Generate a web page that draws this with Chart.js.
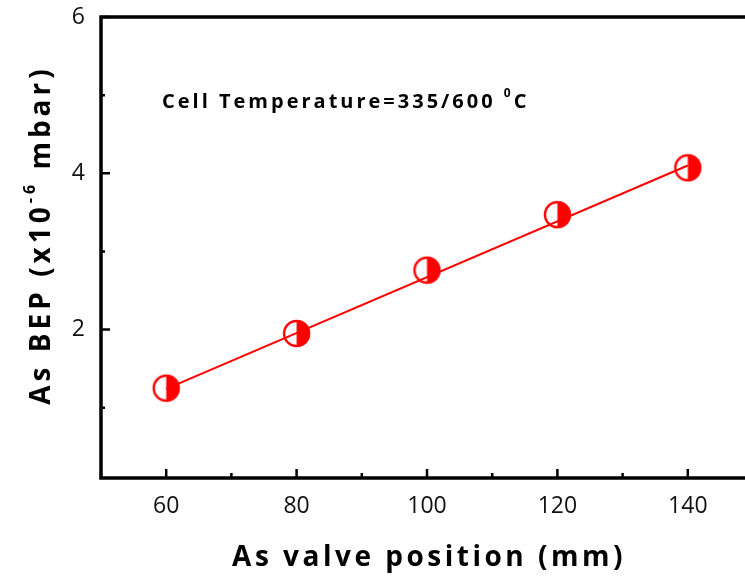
<!DOCTYPE html>
<html>
<head>
<meta charset="utf-8">
<script src="https://cdn.jsdelivr.net/npm/chart.js@4/dist/chart.umd.min.js"></script>
<style>
  html, body { margin: 0; padding: 0; background: #fff; overflow: hidden; }
  #wrap { width: 745px; height: 577px; overflow: hidden; }
</style>
</head>
<body>
<div id="wrap"><canvas id="bepChart" width="770" height="577"></canvas></div>
<script>
// valve position (mm) vs As beam equivalent pressure (x10^-6 mbar)
var valvePos = [60, 80, 100, 120, 140];
var bep = [1.25, 1.95, 2.76, 3.47, 4.07];
// straight fit line, end values
var fitPos = [60, 140];
var fitBep = [1.24, 4.10];

var xTicks = [60, 80, 100, 120, 140];
var xMinor = [50, 70, 90, 110, 130, 150];
var yTicks = [2, 4, 6];
var yMinor = [1, 3, 5];

var RED = '#ff0000';

// half filled circle marker: open left half, solid right half
function halfMarker(r) {
  var c = document.createElement('canvas');
  c.width = c.height = 2 * r + 4;
  var g = c.getContext('2d');
  var m = r + 2;
  g.fillStyle = RED;
  g.beginPath();
  g.arc(m, m, r, -Math.PI / 2, Math.PI / 2);
  g.closePath();
  g.fill();
  g.strokeStyle = RED;
  g.lineWidth = 2.4;
  g.beginPath();
  g.arc(m, m, r - 1, 0, 2 * Math.PI);
  g.stroke();
  return c;
}

var frame = {
  id: 'frame',
  afterDraw: function(chart) {
    var ctx = chart.ctx, a = chart.chartArea;
    var xs = chart.scales.x, ys = chart.scales.y;
    ctx.save();
    ctx.strokeStyle = '#000';
    ctx.lineWidth = 3.5;
    ctx.lineCap = 'square';
    ctx.beginPath();
    ctx.moveTo(a.right + 20, a.top);
    ctx.lineTo(a.left, a.top);
    ctx.lineTo(a.left, a.bottom);
    ctx.lineTo(a.right + 20, a.bottom);
    ctx.stroke();

    ctx.lineWidth = 2.5;
    ctx.lineCap = 'butt';
    ctx.beginPath();
    xTicks.forEach(function(v) {
      var px = xs.getPixelForValue(v);
      ctx.moveTo(px, a.bottom); ctx.lineTo(px, a.bottom - 9);
    });
    xMinor.forEach(function(v) {
      var px = xs.getPixelForValue(v);
      ctx.moveTo(px, a.bottom); ctx.lineTo(px, a.bottom - 5);
    });
    yTicks.forEach(function(v) {
      var py = ys.getPixelForValue(v);
      ctx.moveTo(a.left, py); ctx.lineTo(a.left + 9, py);
    });
    yMinor.forEach(function(v) {
      var py = ys.getPixelForValue(v);
      ctx.moveTo(a.left, py); ctx.lineTo(a.left + 4, py);
    });
    ctx.stroke();

    ctx.fillStyle = '#000';
    ctx.textBaseline = 'alphabetic';

    // x axis title
    ctx.font = 'bold 28px "Open Sans"';
    ctx.letterSpacing = '3.5px';
    ctx.textAlign = 'center';
    ctx.fillText('As valve position (mm)', 429, 566);

    // y axis title with superscript exponent
    ctx.save();
    ctx.translate(50, 235);
    ctx.rotate(-Math.PI / 2);
    ctx.letterSpacing = '4px';
    var p1 = 'As BEP (x10', sup = '-6', p2 = ' mbar)';
    ctx.font = 'bold 28px "Open Sans"';
    var w1 = ctx.measureText(p1).width, w3 = ctx.measureText(p2).width;
    ctx.font = 'bold 16px "Open Sans"';
    var w2 = ctx.measureText(sup).width;
    var x0 = -(w1 + w2 + w3) / 2;
    ctx.textAlign = 'left';
    ctx.font = 'bold 28px "Open Sans"';
    ctx.fillText(p1, x0, 0);
    ctx.font = 'bold 16px "Open Sans"';
    ctx.fillText(sup, x0 + w1, -15);
    ctx.font = 'bold 28px "Open Sans"';
    ctx.fillText(p2, x0 + w1 + w2, 0);
    ctx.restore();

    // cell temperature note
    ctx.letterSpacing = '3px';
    ctx.textAlign = 'left';
    ctx.font = 'bold 20px "Open Sans"';
    var t1 = 'Cell Temperature=335/600 ';
    ctx.fillText(t1, 162, 108);
    var tw = ctx.measureText(t1).width;
    ctx.font = 'bold 12px "Open Sans"';
    ctx.fillText('0', 162 + tw, 97);
    var sw = ctx.measureText('0').width;
    ctx.font = 'bold 20px "Open Sans"';
    ctx.fillText('C', 162 + tw + sw, 108);
    ctx.restore();
  }
};

new Chart(document.getElementById('bepChart'), {
  type: 'scatter',
  data: {
    datasets: [{
      label: 'fit',
      data: fitPos.map(function(x, i) { return { x: x, y: fitBep[i] }; }),
      showLine: true,
      borderColor: RED,
      borderWidth: 2,
      pointRadius: 0,
      order: 1
    }, {
      label: 'As BEP',
      data: valvePos.map(function(x, i) { return { x: x, y: bep[i] }; }),
      pointStyle: halfMarker(13.5),
      pointRadius: 13.5,
      order: 2
    }]
  },
  options: {
    responsive: false,
    animation: false,
    layout: { padding: { left: 0, top: 17, right: 17, bottom: 0 } },
    plugins: { legend: { display: false }, tooltip: { enabled: false } },
    scales: {
      x: {
        type: 'linear', min: 50, max: 150,
        grid: { display: false }, border: { display: false },
        afterBuildTicks: function(s) { s.ticks = xTicks.map(function(v) { return { value: v }; }); },
        afterFit: function(s) { s.height = 99; s.paddingLeft = 0; s.paddingRight = 0; },
        ticks: { padding: 7, color: '#111', font: { family: 'Open Sans', size: 23 }, maxRotation: 0 }
      },
      y: {
        type: 'linear', min: 0.1, max: 6,
        grid: { display: false }, border: { display: false },
        afterBuildTicks: function(s) { s.ticks = yTicks.map(function(v) { return { value: v }; }); },
        afterFit: function(s) { s.width = 101; s.paddingTop = 0; s.paddingBottom = 0; },
        ticks: { padding: 8, color: '#111', font: { family: 'Open Sans', size: 23 } }
      }
    }
  },
  plugins: [frame]
});
</script>
</body>
</html>
